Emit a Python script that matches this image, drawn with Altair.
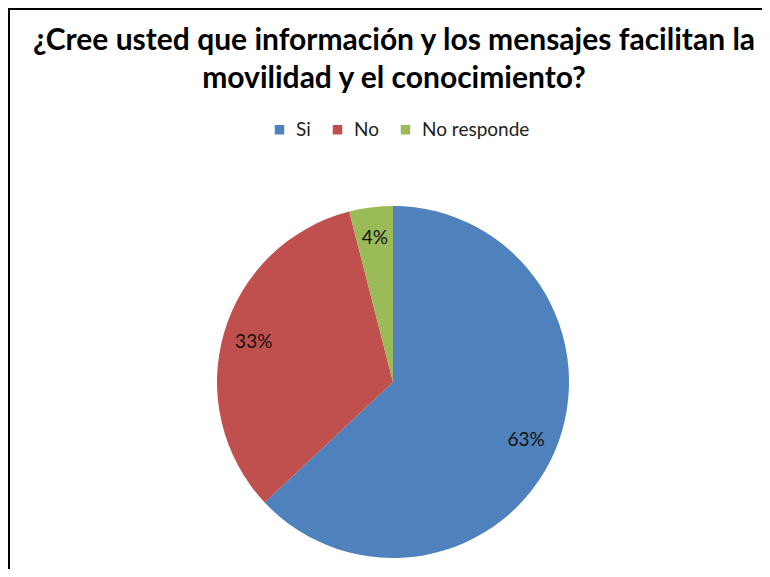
import altair as alt
import pandas as pd

categories = ["Si", "No", "No responde"]
values = [63, 33, 4]
labels = ["63%", "33%", "4%"]
colors = ["#4F81BD", "#C0504D", "#9BBB59"]
title_lines = ["¿Cree usted que  información y los mensajes facilitan la",
               "movilidad y el conocimiento?"]

df = pd.DataFrame({"cat": categories, "value": values, "label": labels,
                   "idx": list(range(len(categories)))})

W = 754
H = 561
CX = 385
CY = 382 - 8

base = alt.Chart(df)

theta = alt.Theta("value:Q", stack=True)
order = alt.Order("idx:Q", sort="ascending")

pie = base.mark_arc(outerRadius=176).encode(
    theta=theta,
    order=order,
    color=alt.Color("cat:N", scale=alt.Scale(domain=categories, range=colors),
                    legend=alt.Legend(title=None, orient="none", direction="horizontal",
                                      legendX=262, legendY=112,
                                      symbolType="square", symbolSize=90,
                                      symbolStrokeWidth=0, labelFontSize=19,
                                      labelFont="Lato", labelColor="#222222",
                                      labelOffset=7, columnPadding=17)),
    x=alt.value(CX),
    y=alt.value(CY),
)

text = base.mark_text(radius=145, fontSize=19, font="Lato", color="#111111").encode(
    theta=theta,
    order=order,
    text="label:N",
    x=alt.value(CX),
    y=alt.value(CY),
)

border_v = alt.Chart(alt.Data(values=[{}])).mark_rule(color="black", strokeWidth=2).encode(
    x=alt.value(1), y=alt.value(0), y2=alt.value(H))
border_h = alt.Chart(alt.Data(values=[{}])).mark_rule(color="black", strokeWidth=2).encode(
    y=alt.value(1), x=alt.value(0), x2=alt.value(W))

chart = alt.layer(border_v, border_h, pie, text).properties(
    width=W, height=H,
    autosize=alt.AutoSizeParams(type="none"),
    padding={"left": 0, "top": 0, "right": 0, "bottom": 0},
    title=alt.TitleParams(text=title_lines, fontSize=30, font="Lato", fontWeight="bold",
                          anchor="middle", lineHeight=38, color="black", dx=9, offset=-87),
).configure_view(stroke=None)

chart.save("out.html", embed_options={"renderer": "svg", "actions": False})
